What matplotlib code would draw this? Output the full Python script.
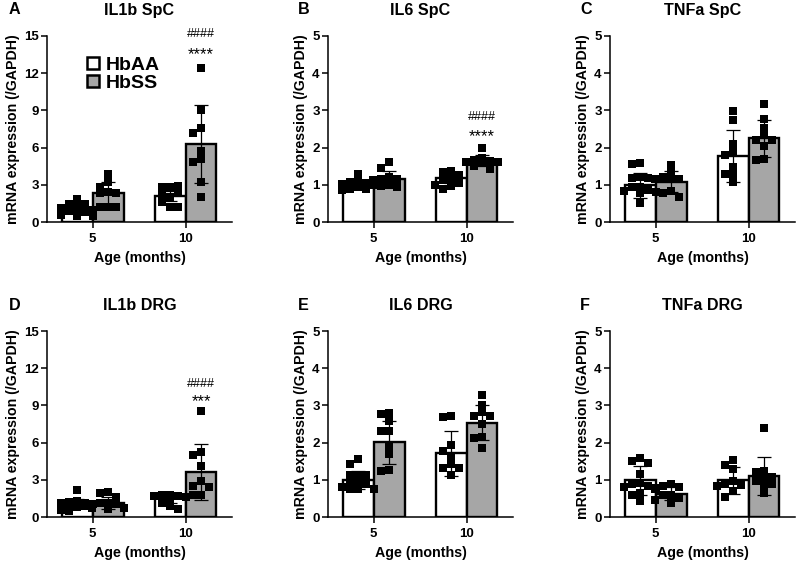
import numpy as np
import matplotlib
matplotlib.use('Agg')
import matplotlib.pyplot as plt
from matplotlib.patches import Patch

plt.rcParams['font.family'] = ['Liberation Sans', 'DejaVu Sans']
plt.rcParams['font.weight'] = 'bold'

ages = ['5', '10']
groups = ['HbAA', 'HbSS']
titles = ['IL1b SpC', 'IL6 SpC', 'TNFa SpC', 'IL1b DRG', 'IL6 DRG', 'TNFa DRG']
letters = ['A', 'B', 'C', 'D', 'E', 'F']
ymaxes = [15, 5, 5, 15, 5, 5]
ysteps = [3, 1, 1, 3, 1, 1]

# means / SD per panel: [HbAA 5, HbSS 5, HbAA 10, HbSS 10]
means = [
    [1.1, 2.3, 2.1, 6.3],
    [1.0, 1.16, 1.17, 1.65],
    [0.99, 1.08, 1.77, 2.25],
    [1.13, 1.13, 1.5, 3.65],
    [1.0, 2.01, 1.71, 2.54],
    [0.99, 0.63, 0.99, 1.1],
]
sds = [
    [0.38, 0.9, 0.4, 3.15],
    [0.12, 0.22, 0.17, 0.14],
    [0.34, 0.28, 0.7, 0.5],
    [0.35, 0.5, 0.4, 2.25],
    [0.25, 0.58, 0.6, 0.48],
    [0.39, 0.18, 0.36, 0.52],
]

# individual animals per panel, same order as means
points = [
    [[1.85, 1.45, 1.45, 1.2, 1.1, 1.0, 1.0, 0.9, 0.8, 0.6, 0.5, 0.45],
     [3.87, 3.2, 2.8, 2.4, 2.35, 2.3, 1.25, 1.2, 1.2],
     [2.85, 2.85, 2.9, 2.37, 2.05, 2.18, 1.64, 1.24, 1.24],
     [12.4, 9.0, 7.6, 7.15, 5.75, 5.08, 4.87, 3.2, 2.0]],
    [[1.3, 1.1, 1.08, 1.05, 1.02, 1.0, 0.98, 0.95, 0.93, 0.9, 0.88, 0.85],
     [1.6, 1.45, 1.2, 1.15, 1.15, 1.12, 1.0, 0.98, 0.95],
     [1.38, 1.35, 1.26, 1.15, 1.12, 1.05, 1.0, 0.98, 0.88],
     [1.98, 1.72, 1.68, 1.65, 1.62, 1.6, 1.58, 1.5, 1.42]],
    [[1.58, 1.55, 1.2, 1.18, 1.17, 0.95, 0.95, 0.85, 0.82, 0.8, 0.77, 0.5],
     [1.53, 1.35, 1.2, 1.17, 1.16, 1.15, 0.82, 0.79, 0.68],
     [2.98, 2.74, 2.11, 1.89, 1.8, 1.49, 1.29, 1.29, 1.08],
     [3.16, 2.76, 2.52, 2.34, 2.2, 2.2, 2.03, 1.7, 1.68]],
    [[2.15, 1.3, 1.25, 1.15, 1.1, 1.05, 1.0, 0.95, 0.9, 0.8, 0.6, 0.45],
     [2.0, 1.95, 1.6, 1.15, 1.1, 1.05, 0.75, 0.7, 0.65],
     [1.8, 1.75, 1.7, 1.68, 1.6, 1.45, 1.1, 0.9, 0.65],
     [8.55, 5.25, 5.04, 4.1, 2.88, 2.47, 2.45, 1.8, 1.75]],
    [[1.57, 1.42, 1.13, 1.13, 1.12, 0.95, 0.94, 0.9, 0.8, 0.76, 0.76, 0.75],
     [2.8, 2.78, 2.57, 2.3, 2.3, 1.92, 1.69, 1.26, 1.24],
     [2.72, 2.68, 1.93, 1.78, 1.62, 1.42, 1.33, 1.33, 1.14],
     [3.28, 3.01, 2.81, 2.72, 2.72, 2.51, 2.15, 2.13, 1.86]],
    [[1.59, 1.5, 1.44, 1.16, 0.92, 0.9, 0.83, 0.8, 0.78, 0.65, 0.6, 0.44],
     [0.89, 0.84, 0.8, 0.74, 0.6, 0.58, 0.5, 0.45, 0.38],
     [1.53, 1.41, 1.3, 0.96, 0.89, 0.85, 0.83, 0.69, 0.54],
     [2.4, 1.23, 1.22, 1.08, 1.0, 0.96, 0.9, 0.83, 0.65]],
]

# significance marks over HbSS 10 bars
marks = {0: ['####', '****'], 1: ['####', '****'], 3: ['####', '***']}
mark_y = {0: [15.2, 13.5], 1: [2.82, 2.3], 3: [10.7, 9.3]}

colors = ['white', '#a6a6a6']
bw = 0.333

def swarm(vals, center, ymax):
    # beeswarm spread over the bar width, overlap allowed
    py = 186.0 / ymax
    px = 92.6
    placed = []
    xs = []
    for v in vals:
        y = v * py
        best, best_n = 0.0, 99
        for k in [0, -1, 1, -2, 2]:
            x = k * 8.0
            n = sum(1 for a, b in placed if abs(x - a) < 7 and abs(y - b) < 6)
            if n < best_n:
                best, best_n = x, n
            if n == 0:
                break
        placed.append((best, y))
        xs.append(center + best / px)
    return xs

fig = plt.figure(figsize=(8, 5.65), dpi=100)
lefts = [47 / 800, 328 / 800, 610 / 800]
bottoms = [1 - 222 / 565, 1 - 517 / 565]
w = 185 / 800
h = 186 / 565

for i in range(6):
    r, c = divmod(i, 3)
    ax = fig.add_axes([lefts[c], bottoms[r], w, h])
    for g in range(2):
        for a in range(2):
            j = a * 2 + g
            xc = a + (g - 0.5) * bw
            ax.bar(xc, means[i][j], width=bw, color=colors[g], edgecolor='black',
                   linewidth=1.7, zorder=2)
            ax.errorbar(xc, means[i][j], yerr=sds[i][j], color='black', lw=0.9,
                        capsize=5.3, capthick=0.9, zorder=3)
            xs = swarm(points[i][j], xc, ymaxes[i])
            ax.scatter(xs, points[i][j], marker='s', s=26, color='black',
                       linewidths=0, zorder=4)
    if i in marks:
        xc = 1 + 0.5 * bw
        for t, yy, fs in zip(marks[i], mark_y[i], [9, 12]):
            ax.text(xc, yy, t, ha='center', va='center', fontsize=fs,
                    fontweight='normal', zorder=5)
    ax.set_xlim(-0.49, 1.5)
    ax.set_ylim(0, ymaxes[i])
    ax.set_yticks(np.arange(0, ymaxes[i] + 0.1, ysteps[i]))
    ax.set_xticks([0, 1])
    ax.set_xticklabels(ages)
    for lab in ax.get_xticklabels() + ax.get_yticklabels():
        lab.set_fontweight('bold')
    for s in ['top', 'right']:
        ax.spines[s].set_visible(False)
    for s in ['left', 'bottom']:
        ax.spines[s].set_linewidth(1.1)
    ax.tick_params(axis='both', width=1.1, length=4, labelsize=9.5, pad=2)
    ax.tick_params(axis='x', pad=4)
    ax.set_xlabel('Age (months)', fontsize=10.3, fontweight='bold', labelpad=4)
    ax.set_ylabel('mRNA expression (/GAPDH)', fontsize=10.2, fontweight='bold', labelpad=3)
    ax.set_title(titles[i], fontsize=11.6, fontweight='bold', pad=15)
    fig.text(lefts[c] - (38 if c == 0 else 30) / 800, bottoms[r] + h + 26 / 565,
             letters[i], fontsize=11.6, fontweight='bold', va='center')
    if i == 0:
        handles = [Patch(facecolor=colors[k], edgecolor='black', linewidth=1.8)
                   for k in range(2)]
        ax.legend(handles, groups, loc='upper left', bbox_to_anchor=(0.165, 0.94),
                  frameon=False, handlelength=0.6, handleheight=0.6,
                  handletextpad=0.35, labelspacing=0.05, borderpad=0,
                  prop={'weight': 'bold', 'size': 14})

fig.savefig('out.png', dpi=100)
